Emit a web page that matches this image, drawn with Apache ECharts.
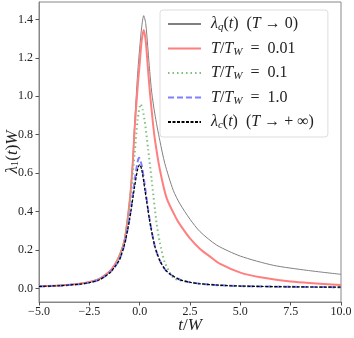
<!DOCTYPE html>
<html><head><meta charset="utf-8">
<script src="https://cdn.jsdelivr.net/npm/echarts@6/dist/echarts.min.js"></script>
<style>html,body{margin:0;padding:0;background:#fff}#c{width:354px;height:338px}</style>
</head><body><div id="c"></div>
<script>
// x tick labels and y tick values
const xTicks = [-5, -2.5, 0, 2.5, 5, 7.5, 10];
const yTicks = [0, 0.2, 0.4, 0.6, 0.8, 1.0, 1.2, 1.4];
const seriesNames = ['lq', 't001', 't01', 't1', 'lc'];

// lambda_q (T -> 0)
const tGray = [-5, -4, -3, -2.5, -2, -1.5, -1.25, -1, -0.75, -0.5, -0.35, -0.25, -0.1, 0, 0.1, 0.2, 0.3, 0.4, 0.5, 0.6, 0.75, 1.0, 1.25, 1.67, 2.0, 2.5, 3.0, 3.83, 5.0, 6.64, 8.3, 10];
const vGray = [0.011, 0.015, 0.025, 0.034, 0.052, 0.09, 0.125, 0.175, 0.26, 0.46, 0.66, 0.86, 1.12, 1.25, 1.36, 1.42, 1.38, 1.26, 1.13, 1.02, 0.91, 0.77, 0.65, 0.51, 0.44, 0.36, 0.295, 0.225, 0.168, 0.12, 0.094, 0.073];
// T/TW = 0.01
const tRed = [-5, -4, -3, -2.5, -2, -1.5, -1.25, -1, -0.75, -0.5, -0.35, -0.25, -0.1, 0, 0.1, 0.2, 0.3, 0.4, 0.5, 0.65, 0.75, 1.0, 1.34, 1.84, 2.08, 2.5, 3.0, 3.5, 4.0, 5.0, 6.0, 7.5, 10];
const vRed = [0.011, 0.015, 0.024, 0.033, 0.05, 0.088, 0.12, 0.17, 0.25, 0.45, 0.64, 0.83, 1.05, 1.17, 1.29, 1.345, 1.29, 1.16, 1.03, 0.87, 0.78, 0.62, 0.47, 0.36, 0.32, 0.26, 0.205, 0.165, 0.127, 0.082, 0.058, 0.036, 0.017];
// T/TW = 0.1
const tGreen = [-5, -4, -3, -2.5, -2, -1.5, -1.25, -1, -0.75, -0.5, -0.25, -0.1, 0.05, 0.15, 0.26, 0.42, 0.59, 0.84, 1.0, 1.25, 1.67, 2.0, 2.5, 3.0, 4.0, 5.0, 6.0, 7.5, 10];
const vGreen = [0.010, 0.014, 0.023, 0.031, 0.047, 0.083, 0.115, 0.165, 0.25, 0.43, 0.70, 0.88, 0.96, 0.93, 0.865, 0.725, 0.57, 0.34, 0.24, 0.135, 0.055, 0.042, 0.032, 0.024, 0.016, 0.012, 0.010, 0.008, 0.006];
// T/TW = 1.0
const tBlue = [-5, -4, -3, -2.5, -2, -1.5, -1.25, -1, -0.75, -0.5, -0.25, -0.1, -0.03, 0.1, 0.25, 0.5, 0.75, 1.0, 1.25, 1.5, 2.0, 2.5, 3.0, 4.0, 5.0, 6.0, 7.5, 10];
const vBlue = [0.010, 0.014, 0.022, 0.030, 0.045, 0.080, 0.11, 0.15, 0.23, 0.365, 0.56, 0.66, 0.68, 0.64, 0.54, 0.355, 0.22, 0.145, 0.10, 0.075, 0.045, 0.032, 0.024, 0.016, 0.012, 0.010, 0.008, 0.006];
// lambda_c (T -> +inf)
const tBlack = [-5, -4, -3, -2.5, -2, -1.5, -1.25, -1, -0.75, -0.5, -0.25, -0.1, 0, 0.1, 0.25, 0.5, 0.75, 1.0, 1.25, 1.5, 2.0, 2.5, 3.0, 4.0, 5.0, 6.0, 7.5, 10];
const vBlack = [0.010, 0.014, 0.022, 0.030, 0.045, 0.080, 0.11, 0.15, 0.23, 0.36, 0.53, 0.62, 0.645, 0.62, 0.52, 0.35, 0.22, 0.145, 0.10, 0.075, 0.045, 0.032, 0.024, 0.016, 0.012, 0.010, 0.008, 0.006];

const zip = (a, b) => a.map((x, i) => [x, b[i]]);
const legendText = {
  lq: '{i|λ}{sub|q}({i|t})  ({i|T} → 0)',
  t001: '{i|T}/{i|T}{sub|W}  =  0.01',
  t01: '{i|T}/{i|T}{sub|W}  =  0.1',
  t1: '{i|T}/{i|T}{sub|W}  =  1.0',
  lc: '{i|λ}{sub|c}({i|t})  ({i|T} → + ∞)'
};
const F = '"Liberation Serif", "DejaVu Serif", serif';
const chart = echarts.init(document.getElementById('c'), null, {renderer: 'canvas'});
const mk = (name, data, color, width, type, z) => ({
  name, type: 'line', data, symbol: 'none', smooth: 0.25, z,
  lineStyle: {color, width, type}, itemStyle: {color}
});
const fmt = v => (v < 0 ? '−' : '') + Math.abs(v).toFixed(1);
chart.setOption({
  animation: false,
  grid: {left: 39, right: 13, top: 2, bottom: 36, show: true, borderColor: '#888', borderWidth: 1,
         backgroundColor: 'transparent', containLabel: false, outerBoundsMode: 'none'},
  xAxis: {
    type: 'value', min: -5, max: 10, interval: 2.5,
    name: '{i|t}/{i|W}', nameLocation: 'middle', nameGap: 15, nameMoveOverlap: false,
    nameTextStyle: {rich: {i: {fontFamily: F, fontStyle: 'italic', fontSize: 17, color: '#222'}}, fontFamily: F, fontSize: 17, color: '#222'},
    axisLine: {show: true, onZero: false, lineStyle: {color: '#888'}},
    axisTick: {show: true, length: 3.5, lineStyle: {color: '#555'}},
    axisLabel: {margin: 4, fontFamily: F, fontSize: 12, color: '#222', formatter: v => xTicks.includes(v) ? fmt(v) : ''},
    splitLine: {show: false}
  },
  yAxis: {
    type: 'value', min: -0.071, max: 1.491,
    name: '{i|λ}{sub|1}({i|t}){i|W}', nameLocation: 'middle', nameGap: 18, nameRotate: 90, nameMoveOverlap: false,
    nameTextStyle: {fontFamily: F, fontSize: 17, color: '#222', rich: {
      i: {fontFamily: F, fontStyle: 'italic', fontSize: 17, color: '#222'},
      sub: {fontFamily: F, fontSize: 11, color: '#222', verticalAlign: 'bottom', lineHeight: 12}
    }},
    axisLine: {show: true, onZero: false, lineStyle: {color: '#888'}},
    axisTick: {show: true, length: 3.5, lineStyle: {color: '#555'}, customValues: yTicks},
    axisLabel: {margin: 6, fontFamily: F, fontSize: 12, color: '#222', customValues: yTicks, formatter: v => fmt(v)},
    splitLine: {show: false}
  },
  legend: {
    orient: 'vertical', left: 160, top: 10,
    padding: [6, 14, 6, 7], itemGap: 7.5, itemWidth: 33, itemHeight: 17,
    backgroundColor: 'rgba(255,255,255,0.8)', borderColor: '#ddd', borderWidth: 1, borderRadius: 3,
    data: seriesNames,
    itemStyle: {opacity: 0},
    formatter: n => legendText[n],
    textStyle: {fontFamily: F, fontSize: 16, color: '#222', padding: [0, 0, 0, 5], rich: {
      i: {fontFamily: F, fontStyle: 'italic', fontSize: 16, color: '#222', lineHeight: 18},
      sub: {fontFamily: F, fontStyle: 'italic', fontSize: 11, color: '#222', verticalAlign: 'bottom', lineHeight: 12}
    }}
  },
  series: [
    mk('lq', zip(tGray, vGray), '#808080', 1, 'solid', 2),
    mk('t001', zip(tRed, vRed), '#ff7f7f', 2, 'solid', 3),
    mk('t01', zip(tGreen, vGreen), '#7fbf7f', 2, [1.5, 3], 4),
    mk('t1', zip(tBlue, vBlue), '#8080ff', 2, [6, 3], 5),
    mk('lc', zip(tBlack, vBlack), '#000000', 1.2, [3, 1.5], 6)
  ]
});
</script></body></html>
